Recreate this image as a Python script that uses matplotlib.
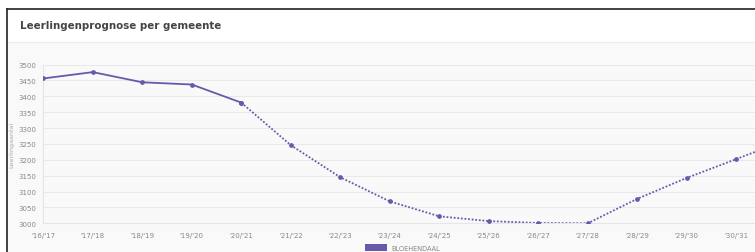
import matplotlib.pyplot as plt
from matplotlib.patches import Rectangle
from matplotlib.lines import Line2D

years = ["'16/'17", "'17/'18", "'18/'19", "'19/'20", "'20/'21", "'21/'22", "'22/'23", "'23/'24",
         "'24/'25", "'25/'26", "'26/'27", "'27/'28", "'28/'29", "'29/'30", "'30/'31", "'31/'32"]
leerlingen = [3456, 3476, 3444, 3437, 3380, 3246, 3145, 3069,
              3022, 3007, 3001, 3000, 3077, 3143, 3202, 3262]
n_actual = 5  # measured up to '20/'21, prognosis after
gemeente = "BLOEHENDAAL"

purple = "#6a58ab"

fig = plt.figure(figsize=(7.55, 2.53), dpi=100)
fig.patch.set_facecolor("white")

# card frame and panel background
fig.patches.append(Rectangle((8/755, 0), 1, 1 - 43/253, transform=fig.transFigure,
                             facecolor="#f9f9f9", edgecolor="none", zorder=-1))
fig.add_artist(Line2D([8/755, 1], [1 - 43/253, 1 - 43/253], color="#ececec", lw=0.8))
fig.add_artist(Line2D([7/755, 7/755], [0, 1 - 10/253], color="#222222", lw=1.2))
fig.add_artist(Line2D([7/755, 1], [1 - 10/253, 1 - 10/253], color="#222222", lw=1.2))

fig.text(20/755, 1 - 26/253, "Leerlingenprognose per gemeente", fontsize=7.35,
         color="#444444", va="center", ha="left", fontweight="bold")

ax = fig.add_axes([43.3/755, 1 - 224.3/253, 1 - 43.3/755, (224.3 - 65.5)/253])
ax.set_facecolor("none")
ax.set_zorder(2)

x = list(range(len(years)))
ax.plot(x[:n_actual], leerlingen[:n_actual], color=purple, lw=1.3, marker="o",
        markersize=2.4, zorder=3)
ax.plot(x[n_actual - 1:], leerlingen[n_actual - 1:], color=purple, lw=1.3, ls=(0, (1, 1)),
        marker="o", markersize=2.4, zorder=3)

ax.set_xlim(0, 14.38)
ax.set_ylim(3000, 3500)
ax.set_yticks(range(3000, 3501, 50))
ax.set_xticks(x[:15])
ax.set_xticklabels(years[:15])
ax.tick_params(axis="both", length=0, labelsize=5, colors="#888888")
ax.tick_params(axis="x", pad=6)
ax.tick_params(axis="y", pad=5)
ax.grid(axis="y", color="#e9e9e9", lw=0.8)
ax.set_axisbelow(True)
for s in ["top", "right"]:
    ax.spines[s].set_visible(False)
ax.spines["left"].set_color("#e6e6e6")
ax.spines["bottom"].set_color("#e6e6e6")
ax.set_ylabel("Leerlingaantal", fontsize=4.6, color="#aaaaaa", labelpad=3)

# legend
fig.patches.append(Rectangle((365/755, 1 - 252/253), 22/755, 7/253, transform=fig.transFigure,
                             facecolor=purple, edgecolor="none"))
fig.text(391/755, 1 - 249/253, gemeente, fontsize=4.8, color="#888888", va="center", ha="left")

fig.savefig("out.png", dpi=100)
